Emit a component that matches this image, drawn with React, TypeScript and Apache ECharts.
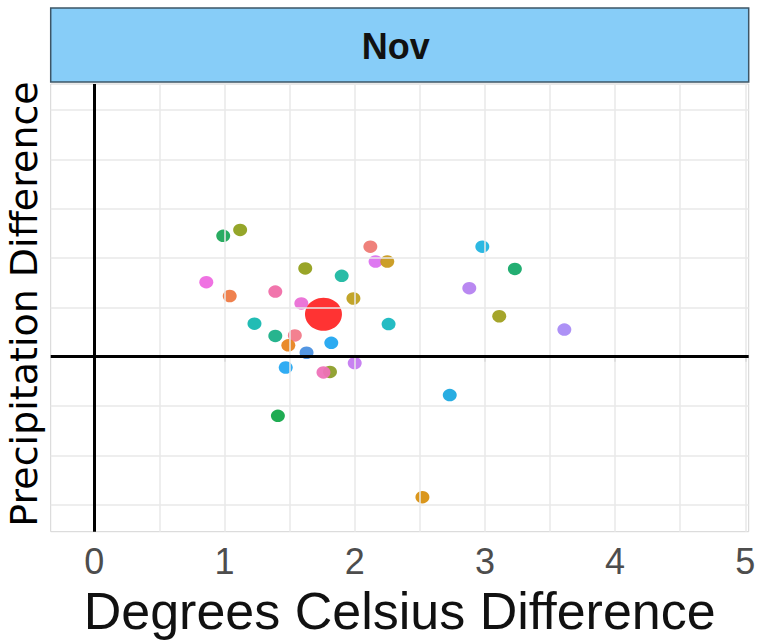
import React, { useEffect, useRef } from "react";
import * as echarts from "echarts";

// Temperature difference (°C) of each model run
const tempDiff = [
  0.99, 1.12, 0.86, 1.04, 1.39, 1.62, 1.9, 2.12, 2.16, 2.25, 1.59, 1.99,
  1.23, 2.26, 1.39, 1.54, 1.49, 1.82, 1.63, 1.47, 1.81, 1.76, 2.0, 1.41,
  2.98, 3.23, 2.88, 3.11, 3.61, 2.73, 2.52,
];
// Precipitation difference of each model run (in grid units)
const precipDiff = [
  2.45, 2.57, 1.51, 1.23, 1.32, 1.79, 1.64, 2.23, 1.93, 1.93, 1.08, 1.18,
  0.67, 0.66, 0.42, 0.43, 0.23, 0.28, 0.08, -0.22, -0.31, -0.32, -0.13, -1.2,
  2.23, 1.78, 1.39, 0.82, 0.55, -0.78, -2.85,
];
const pointColors = [
  "#1DA858", "#8FA11F", "#EE6AE0", "#EE7A45", "#F06EA8", "#94A01C", "#1DB8A2",
  "#EE7A74", "#DC72F0", "#C99A1E", "#EA6FD6", "#BFA020", "#16B8B0", "#18B8C0",
  "#1BB088", "#F27A8A", "#E88420", "#22A6F0", "#4A90E0", "#25A8F2", "#8D9E2A",
  "#EE72B8", "#C57BF0", "#14A84A", "#22B4E0", "#17AA6A", "#B582F0", "#A0A020",
  "#A98BF5", "#1CA9E0", "#D89010",
];
// Ensemble mean
const meanPoint = [1.76, 0.86];

const xTickLabels = [0, 1, 2, 3, 4, 5];
const xGridValues = [0, 0.5, 1, 1.5, 2, 2.5, 3, 3.5, 4, 4.5, 5];
const yGridValues = [-3, -2, -1, 0, 1, 2, 3, 4, 5];

const facetTitle = "Nov";
const xTitle = "Degrees Celsius Difference";
const yTitle = "Precipitation Difference";

export default function App() {
  const ref = useRef<HTMLDivElement>(null);
  useEffect(() => {
    if (!ref.current) return;
    const chart = echarts.init(ref.current, null, { renderer: "svg" });
    const GL = 50.7, GT = 84, GW = 698, GH = 447.7;
    const option = {
      animation: false,
      backgroundColor: "#ffffff",
      grid: {
        left: GL, top: GT, width: GW, height: GH,
        containLabel: false,
        outerBoundsMode: "none",
        show: true, borderColor: "#d4d4d4", borderWidth: 1, backgroundColor: "#ffffff",
      },
      xAxis: {
        type: "value",
        min: -0.335,
        max: 5.026,
        splitNumber: 5,
        name: xTitle,
        nameLocation: "middle",
        nameGap: 52,
        nameTextStyle: { fontFamily: "Liberation Sans", fontSize: 52, color: "#111111" },
        axisLine: { show: false },
        splitLine: { show: false },
        axisTick: { show: true, customValues: xTickLabels, length: 5, lineStyle: { color: "#aaaaaa", width: 1.5 } },
        axisLabel: {
          customValues: xTickLabels,
          fontFamily: "Liberation Sans",
          fontSize: 36,
          color: "#4d4d4d",
          margin: 12,
        },
      },
      yAxis: {
        type: "value",
        min: -3.55,
        max: 5.53,
        axisLine: { show: false },
        axisTick: { show: false },
        axisLabel: { show: false },
        splitLine: { show: false },
      },
      graphic: [
        {
          type: "rect",
          shape: { x: GL, y: 8, width: GW, height: 74 },
          style: { fill: "#87CDF8", stroke: "#3D5566", lineWidth: 1.5 },
        },
        {
          type: "text",
          x: GL + GW / 2 - 4,
          y: 46,
          style: {
            text: facetTitle,
            fontFamily: "Liberation Sans",
            fontWeight: "bold",
            fontSize: 36,
            fill: "#111111",
            align: "center",
            verticalAlign: "middle",
          },
        },
        {
          type: "text",
          x: 24,
          y: 304,
          rotation: Math.PI / 2,
          style: {
            text: yTitle,
            fontFamily: "DejaVu Sans",
            fontSize: 38,
            fill: "#000000",
            align: "center",
            verticalAlign: "middle",
          },
        },
      ],
      series: [
        {
          type: "scatter",
          data: [],
          silent: true,
          markLine: {
            silent: true,
            symbol: "none",
            label: { show: false },
            lineStyle: { color: "#e8e8e8", width: 1.5, type: "solid" },
            data: [
              ...xGridValues.map((v) => ({ xAxis: v })),
              ...yGridValues.map((v) => ({ yAxis: v })),
            ],
          },
          z: 1,
        },
        {
          type: "scatter",
          data: [],
          silent: true,
          markLine: {
            silent: true,
            symbol: "none",
            label: { show: false },
            lineStyle: { color: "#000000", width: 3, type: "solid" },
            data: [{ xAxis: 0 }, { yAxis: 0 }],
          },
          z: 2,
        },
        {
          type: "scatter",
          name: "Models",
          symbol: "circle",
          symbolSize: [14, 12.5],
          z: 3,
          data: tempDiff.map((x, i) => ({
            value: [x, precipDiff[i]],
            itemStyle: { color: pointColors[i], opacity: 0.95 },
          })),
        },
        {
          type: "scatter",
          name: "Mean",
          symbol: "circle",
          symbolSize: [37, 33],
          z: 4,
          itemStyle: { color: "#FF0000" },
          data: [meanPoint],
        },
      ],
    };
    chart.setOption(option as any);
    return () => chart.dispose();
  }, []);
  return (
    <div
      ref={ref}
      style={{ position: "fixed", left: 0, top: 0, width: 760, height: 642 }}
    />
  );
}
